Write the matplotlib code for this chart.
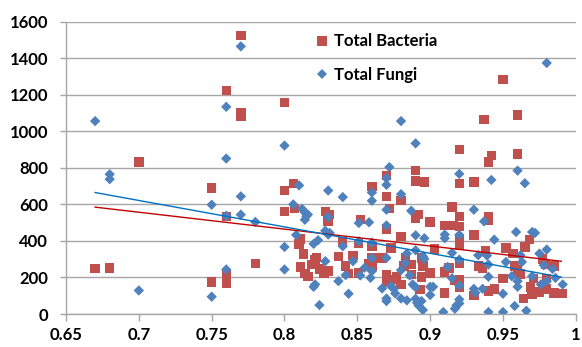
import matplotlib
matplotlib.use("Agg")
import matplotlib.pyplot as plt
from matplotlib.lines import Line2D

plt.rcParams['font.family'] = ['Lato', 'DejaVu Sans']
plt.rcParams['font.weight'] = 'bold'

# Total bacteria: (x, count)
bact_x = [0.67, 0.68, 0.70, 0.75, 0.75, 0.76, 0.76, 0.76, 0.76, 0.77, 0.77, 0.77, 0.78,
          0.80, 0.80, 0.80, 0.806, 0.807, 0.81, 0.811, 0.811, 0.813, 0.814, 0.816, 0.819,
          0.821, 0.822, 0.824, 0.827, 0.828, 0.83, 0.83, 0.831, 0.83, 0.837, 0.84, 0.842,
          0.844, 0.847, 0.851, 0.851, 0.852, 0.858, 0.86, 0.86, 0.86, 0.86, 0.867, 0.87,
          0.87, 0.87, 0.87, 0.87, 0.872, 0.873, 0.875, 0.877, 0.88, 0.88, 0.88, 0.882,
          0.883, 0.887, 0.887, 0.89, 0.89, 0.89, 0.892, 0.894, 0.894, 0.893, 0.896, 0.895,
          0.90, 0.90, 0.903, 0.91, 0.91, 0.91, 0.913, 0.915, 0.916, 0.917, 0.92, 0.92,
          0.92, 0.92, 0.92, 0.92, 0.92, 0.92, 0.92, 0.93, 0.93, 0.93, 0.933, 0.936, 0.937,
          0.938, 0.94, 0.94, 0.94, 0.942, 0.94, 0.944, 0.95, 0.952, 0.95, 0.957, 0.958,
          0.96, 0.96, 0.96, 0.962, 0.964, 0.965, 0.968, 0.969, 0.97, 0.971, 0.975, 0.977,
          0.979, 0.98, 0.98, 0.985, 0.985, 0.991]
bact_y = [250, 253, 831, 689, 176, 1222, 535, 215, 170, 1525, 1100, 1080, 275,
          1158, 675, 560, 715, 576, 384, 411, 258, 329, 222, 207, 271,
          298, 311, 247, 225, 560, 535, 507, 544, 235, 315, 395, 262,
          222, 320, 387, 225, 516, 275, 311, 698, 369, 262, 307, 758,
          642, 465, 216, 175, 576, 362, 189, 202, 620, 425, 162, 262,
          311, 271, 216, 785, 727, 525, 544, 307, 202, 135, 722, 262,
          504, 225, 356, 485, 229, 116, 253, 585, 484, 185, 902, 713,
          535, 480, 407, 375, 280, 189, 149, 722, 433, 100, 262, 251, 1065,
          344, 535, 513, 831, 867, 125, 138, 1285, 362, 196, 331, 262,
          1089, 876, 240, 220, 84, 367, 407, 149, 107, 193, 120, 302,
          271, 193, 138, 262, 115, 113]

# Total fungi: (x, count)
fungi_x = [0.67, 0.68, 0.68, 0.70, 0.75, 0.75, 0.76, 0.76, 0.76, 0.76, 0.77, 0.77, 0.77,
           0.78, 0.80, 0.80, 0.80, 0.806, 0.808, 0.81, 0.812, 0.814, 0.815, 0.814, 0.816,
           0.82, 0.823, 0.82, 0.821, 0.824, 0.828, 0.828, 0.83, 0.83, 0.83, 0.831, 0.837,
           0.84, 0.84, 0.842, 0.844, 0.847, 0.851, 0.851, 0.852, 0.855, 0.858, 0.859, 0.86,
           0.86, 0.86, 0.86, 0.86, 0.867, 0.87, 0.87, 0.87, 0.87, 0.87, 0.87, 0.87, 0.872,
           0.873, 0.875, 0.876, 0.88, 0.88, 0.88, 0.88, 0.883, 0.884, 0.884, 0.886, 0.887,
           0.888, 0.89, 0.89, 0.89, 0.89, 0.89, 0.891, 0.892, 0.894, 0.895, 0.896, 0.895,
           0.896, 0.90, 0.902, 0.90, 0.909, 0.91, 0.91, 0.912, 0.915, 0.915, 0.917, 0.918,
           0.92, 0.92, 0.92, 0.92, 0.92, 0.92, 0.93, 0.93, 0.931, 0.933, 0.936, 0.937,
           0.939, 0.94, 0.94, 0.94, 0.942, 0.944, 0.95, 0.95, 0.952, 0.956, 0.958, 0.959,
           0.96, 0.96, 0.96, 0.962, 0.963, 0.965, 0.966, 0.97, 0.972, 0.97, 0.975, 0.976,
           0.978, 0.98, 0.98, 0.98, 0.984, 0.986, 0.991]
fungi_y = [1056, 765, 738, 129, 598, 95, 1134, 851, 538, 244, 1465, 644, 544,
           504, 922, 367, 244, 600, 433, 704, 576, 556, 535, 516, 545,
           384, 404, 149, 162, 49, 289, 456, 676, 531, 435, 444, 180,
           640, 371, 213, 111, 289, 498, 398, 211, 253, 502, 198, 665,
           620, 391, 307, 235, 140, 743, 707, 571, 485, 307, 85, 71, 804,
           153, 138, 113, 1056, 656, 240, 85, 280, 331, 75, 211, 565,
           162, 934, 431, 349, 147, 84, 62, 47, 71, 22, 415, 316,
           302, 149, 149, 104, 11, 435, 415, 258, 335, 196, 29, 47,
           767, 433, 298, 156, 80, 58, 571, 138, 116, 322, 138, 507,
           320, 271, 204, 11, 734, 407, 111, 11, 285, 207, 44, 449,
           180, 149, 785, 322, 285, 716, 18, 449, 444, 207, 331, 162,
           267, 353, 1374, 180, 247, 198, 162]

# Linear trend lines (end points)
trend_x = [0.67, 0.99]
bact_trend = [585, 289]
fungi_trend = [665, 202]

x_ticks = [0.65, 0.7, 0.75, 0.8, 0.85, 0.9, 0.95, 1.0]
x_tick_labels = ['0.65', '0.7', '0.75', '0.8', '0.85', '0.9', '0.95', '1']
y_ticks = [0, 200, 400, 600, 800, 1000, 1200, 1400, 1600]

red = '#C0504D'
blue = '#4F81BD'
grid_gray = '#A6A6A6'

fig = plt.figure(figsize=(5.82, 3.47), dpi=100)
ax = fig.add_axes([0.1134, 0.095, 0.876, 0.8425])

ax.scatter(bact_x, bact_y, marker='s', s=46, color=red, edgecolors='none',
           zorder=3, label='Total Bacteria')
ax.scatter(fungi_x, fungi_y, marker='D', s=28, color=blue, edgecolors='none',
           zorder=4, label='Total Fungi')
ax.plot(trend_x, bact_trend, color='#C00000', lw=1.0, zorder=5)
ax.plot(trend_x, fungi_trend, color='#0070C0', lw=1.0, zorder=5)

ax.set_xlim(0.65, 1.0)
ax.set_ylim(0, 1600)
ax.set_xticks(x_ticks)
ax.set_xticklabels(x_tick_labels)
ax.set_yticks(y_ticks)

ax.yaxis.grid(True, color=grid_gray, lw=1.0, zorder=0)
ax.set_axisbelow(True)
for side in ['top', 'right']:
    ax.spines[side].set_visible(False)
for side in ['left', 'bottom']:
    ax.spines[side].set_color(grid_gray)
    ax.spines[side].set_linewidth(1.0)
ax.tick_params(axis='x', length=5, width=1, color=grid_gray, labelsize=12, pad=4)
ax.tick_params(axis='y', length=4, width=1, color=grid_gray, labelsize=12, pad=9)
for lbl in ax.get_xticklabels() + ax.get_yticklabels():
    lbl.set_fontweight('bold')

handles = [
    Line2D([], [], marker='s', ls='none', color=red, markersize=7.5, markeredgewidth=0),
    Line2D([], [], marker='D', ls='none', color=blue, markersize=5.5, markeredgewidth=0),
]
ax.legend(handles, ['Total Bacteria', 'Total Fungi'], loc='upper left',
          bbox_to_anchor=(0.487, 0.96), frameon=False, handlelength=0.9,
          handletextpad=0.3, labelspacing=1.05, borderpad=0, borderaxespad=0,
          prop={'size': 12, 'weight': 'bold'})

fig.savefig('out.png', dpi=100)
